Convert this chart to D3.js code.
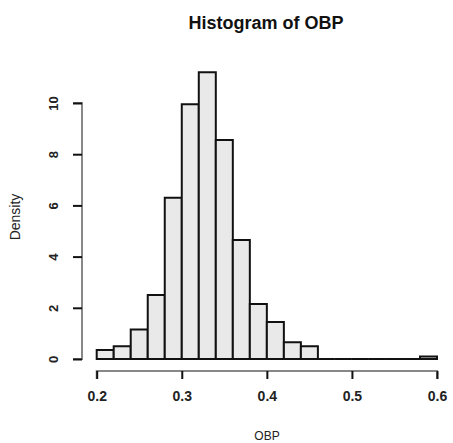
<!DOCTYPE html>
<html><head><meta charset="utf-8">
<script src="https://cdn.jsdelivr.net/npm/d3@7"></script>
<style>body{margin:0;background:#fff}svg{display:block}text{font-family:"Liberation Sans",Arial,sans-serif}</style>
</head><body><div id="chart"></div>
<script>
const binStarts = [0.20,0.22,0.24,0.26,0.28,0.30,0.32,0.34,0.36,0.38,0.40,0.42,0.44,0.46,0.48,0.50,0.52,0.54,0.56,0.58];
const densities = [0.35,0.5,1.15,2.5,6.3,9.95,11.2,8.55,4.65,2.15,1.45,0.65,0.5,0,0,0,0,0,0,0.1];
const binWidth = 0.02;
const xTicks = [0.2,0.3,0.4,0.5,0.6];
const yTicks = [0,2,4,6,8,10];

const W=453,H=443;
const svg=d3.select("#chart").append("svg").attr("width",W).attr("height",H);
const x=d3.scaleLinear().domain([0.2,0.6]).range([96.7,437]);
const y=d3.scaleLinear().domain([0,10]).range([359,103]);

svg.append("g").selectAll("path").data(binStarts).join("path")
  .attr("d",(d,i)=>{const x0=x(d),x1=x(d+binWidth),y0=y(0),y1=y(densities[i]);
    return `M${x0},${y0}V${y1}H${x1}V${y0}Z`;})
  .attr("fill","#e9e9e9").attr("stroke","#111").attr("stroke-width",2);

// x axis
const xa=svg.append("g").attr("transform","translate(0,371)")
  .call(d3.axisBottom(x).tickValues(xTicks).tickFormat(d3.format(".1f")).tickSize(8).tickPadding(12));
xa.select(".domain").attr("stroke","#888").attr("stroke-width",2).attr("d",`M${x(0.2)},8V0H${x(0.6)}V8`);
xa.selectAll(".tick line").attr("stroke","#111").attr("stroke-width",2);
xa.selectAll("text").attr("font-size",14).attr("font-weight","bold").attr("fill","#222").attr("font-family","Liberation Sans, Arial, sans-serif");

// y axis
const ya=svg.append("g").attr("transform","translate(82,0)")
  .call(d3.axisLeft(y).tickValues(yTicks).tickSize(9).tickPadding(0));
ya.select(".domain").attr("stroke","#888").attr("stroke-width",2).attr("d",`M-9,${y(0)}H0V${y(10)}H-9`);
ya.selectAll(".tick line").attr("stroke","#111").attr("stroke-width",2);
ya.selectAll("text").attr("font-size",13).attr("font-weight","bold").attr("fill","#222")
  .attr("font-family","Liberation Sans, Arial, sans-serif")
  .attr("text-anchor","middle").attr("transform","translate(-29,0) rotate(-90)").attr("x",0).attr("dy","0.35em");

svg.append("text").attr("x",266).attr("y",29).attr("text-anchor","middle")
  .attr("font-size",18).attr("font-weight","bold").attr("fill","#111").text("Histogram of OBP");
svg.append("text").attr("transform","translate(20,217) rotate(-90)").attr("text-anchor","middle")
  .attr("font-size",14).attr("fill","#222").text("Density");
svg.append("text").attr("x",267).attr("y",440).attr("text-anchor","middle")
  .attr("font-size",12).attr("fill","#222").text("OBP");
</script></body></html>
